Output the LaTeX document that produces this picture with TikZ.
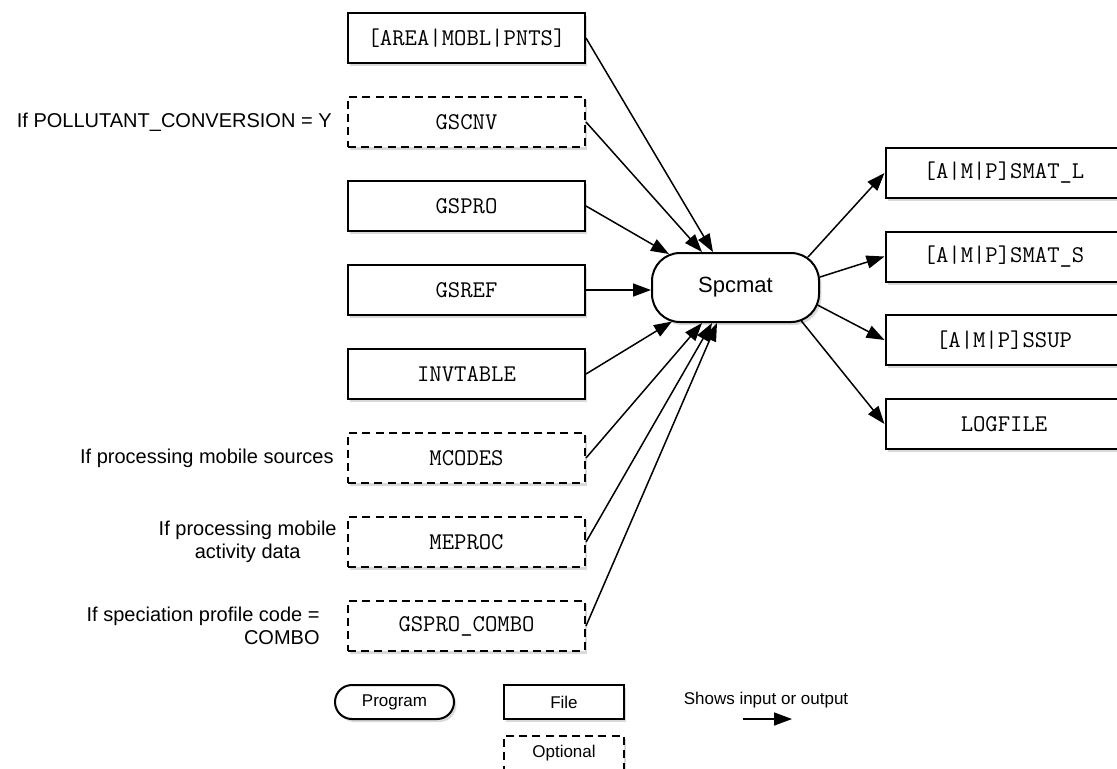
\documentclass[tikz,border=0pt]{standalone}
\usepackage{fontspec}
\setmainfont{Liberation Sans}
\usepackage{tikz}
\usetikzlibrary{calc,positioning,arrows.meta,shadows}
\tikzset{
  fnode/.style={draw, fill=white, line width=1pt, minimum width=118.5pt,
                minimum height=25pt, inner sep=0pt,
                font=\fontsize{12}{14}\selectfont\ttfamily,
                drop shadow={shadow xshift=1.2pt, shadow yshift=-1.5pt, opacity=0.3}},
  onode/.style={fnode, dash pattern=on 4pt off 2.6pt},
  pnode/.style={draw, fill=white, line width=1pt, rounded corners=14pt,
                minimum width=83.5pt, minimum height=34.5pt, inner sep=0pt,
                font=\fontsize{11}{13}\selectfont,
                drop shadow={shadow xshift=1.2pt, shadow yshift=-1.5pt, opacity=0.3}},
  note/.style={inner sep=0pt, font=\fontsize{10}{11.5}\selectfont},
  flow/.style={line width=0.75pt, -{Triangle[length=9pt, width=6.5pt]}}
}

\begin{document}
\begin{tikzpicture}[x=0.5pt, y=-0.5pt]
  \useasboundingbox (0,0) rectangle (1117,768);
  % inputs
  \node[fnode] (amp)      at (466.5, 38) {[AREA|MOBL|PNTS]};
  \node[onode] (gscnv)    at (466.5,122) {GSCNV};
  \node[fnode] (gspro)    at (466.5,206) {GSPRO};
  \node[fnode] (gsref)    at (466.5,290) {GSREF};
  \node[fnode] (invtable) at (466.5,374) {INVTABLE};
  \node[onode] (mcodes)   at (466.5,458) {MCODES};
  \node[onode] (meproc)   at (466.5,542) {MEPROC};
  \node[onode] (combo)    at (466.5,626) {GSPRO\_COMBO};
  % program
  \node[pnode] (spcmat) at (735.5,287.5) {Spcmat};
  % outputs
  \node[fnode] (smatl)   at (1004,173)   {[A|M|P]SMAT\_L};
  \node[fnode] (smats)   at (1004,256.5) {[A|M|P]SMAT\_S};
  \node[fnode] (ssup)    at (1004,340)   {[A|M|P]SSUP};
  \node[fnode] (logfile) at (1004,424)   {LOGFILE};
  % conditions
  \node[note, left=7.5pt of gscnv] (cnvnote) {If POLLUTANT\_CONVERSION = Y};
  \node[note, left=6.5pt of mcodes] (mcnote) {If processing mobile sources};
  \node[note, align=center, left=5pt of meproc] (menote) {If processing mobile\\activity data};
  \node[note, align=right, left=13.5pt of combo] (cbnote) {If speciation profile code =\\COMBO};
  % edges in
  \draw[flow] (amp.east)      -- ($(spcmat.north)+(-22.5,0)$);
  \draw[flow] (gscnv.east)    -- ($(spcmat.north)+(-33.5,0)$);
  \draw[flow] (gspro.east)    -- ($(spcmat.north west)+(18,2)$);
  \draw[flow] (gsref.east)    -- (gsref.east -| spcmat.west);
  \draw[flow] (invtable.east) -- ($(spcmat.south west)+(21,-1.5)$);
  \draw[flow] (mcodes.east)   -- ($(spcmat.south)+(-33.5,0)$);
  \draw[flow] (meproc.east)   -- ($(spcmat.south)+(-23.5,0)$);
  \draw[flow] (combo.east)    -- ($(spcmat.south)+(-18.5,0)$);
  % edges out
  \draw[flow] ($(spcmat.north east)+(-12,5)$)    -- (smatl.west);
  \draw[flow] ($(spcmat.east)+(0,-10.5)$)        -- (smats.west);
  \draw[flow] ($(spcmat.east)+(-2.5,17.5)$)      -- (ssup.west);
  \draw[flow] ($(spcmat.south east)+(-19,-2.5)$) -- (logfile.west);
  % legend
  \node[pnode, minimum width=59.5pt, minimum height=17pt, rounded corners=8.5pt,
        font=\fontsize{8.5}{10}\selectfont] (lgprog) at (394.5,702) {Program};
  \node[fnode, minimum width=60pt, minimum height=17pt,
        font=\fontsize{8.5}{10}\selectfont] (lgfile) at (564,702) {File};
  \node[onode, minimum width=60pt, minimum height=17pt,
        font=\fontsize{8.5}{10}\selectfont] (lgopt) at (564,753) {Optional};
  \node[note, font=\fontsize{8.5}{10}\selectfont] (lgnote) at (766,700) {Shows input or output};
  \coordinate (lgA) at (743,719);
  \coordinate (lgB) at (792,719);
  \draw[flow] (lgA) -- (lgB);
\end{tikzpicture}
\end{document}
